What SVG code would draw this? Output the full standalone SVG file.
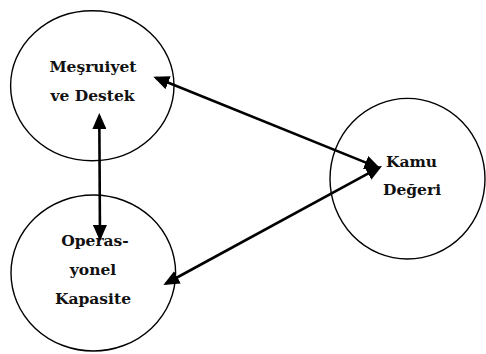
<svg xmlns="http://www.w3.org/2000/svg" width="486" height="354" viewBox="0 0 486 354">
<style>
.node{fill:#fff;stroke:#000;stroke-width:1.4}
.lbl{font-family:"DejaVu Serif","Liberation Serif",serif;font-weight:bold;font-size:15.5px;fill:#111;text-anchor:middle}
.conn{stroke:#000;stroke-width:2.6;fill:none;marker-start:url(#ah);marker-end:url(#ah)}
</style>
<defs>
<marker id="ah" markerUnits="userSpaceOnUse" markerWidth="16" markerHeight="14" refX="13" refY="7" orient="auto-start-reverse" viewBox="0 0 16 14">
<path d="M0,0 L16,7 L0,14 z" fill="#000"/>
</marker>
</defs>
<rect width="486" height="354" fill="#fff"/>
<g id="n-mesruiyet">
<ellipse class="node" cx="92.3" cy="85.7" rx="81.7" ry="75"/>
<text class="lbl" x="93" y="72">Meşruiyet</text>
<text class="lbl" x="92.5" y="100.5">ve Destek</text>
</g>
<g id="n-operasyonel">
<ellipse class="node" cx="93.3" cy="273" rx="82.3" ry="78"/>
<text class="lbl" x="95" y="246">Operas-</text>
<text class="lbl" x="93" y="274.5">yonel</text>
<text class="lbl" x="93" y="304">Kapasite</text>
</g>
<g id="n-kamu">
<ellipse class="node" cx="407.5" cy="178.7" rx="77.5" ry="80.3"/>
<text class="lbl" x="411.5" y="166.5">Kamu</text>
<text class="lbl" x="412" y="195">Değeri</text>
</g>
<g id="connectors">
<line class="conn" x1="156.1" y1="77.8" x2="377.7" y2="167.4"/>
<line class="conn" x1="99.3" y1="116" x2="100" y2="238"/>
<line class="conn" x1="166" y1="283.5" x2="379.4" y2="167.4"/>
</g>
</svg>
